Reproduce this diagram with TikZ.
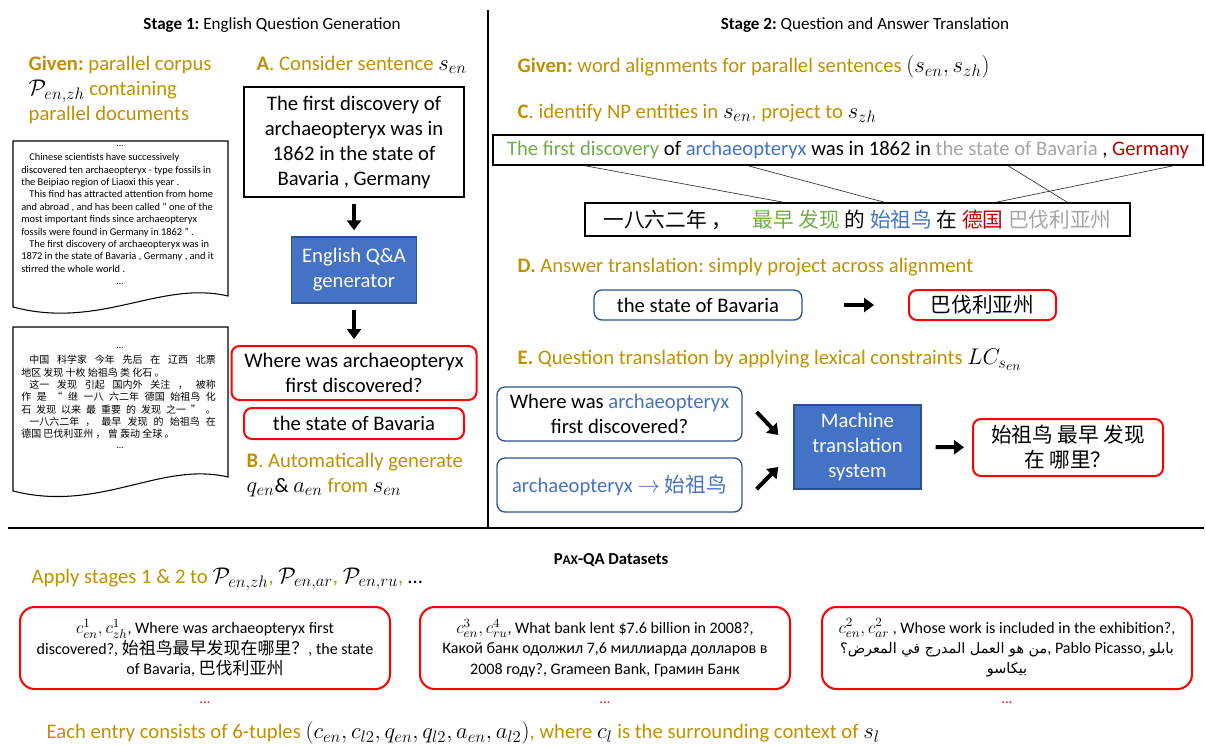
\RequirePackage{fix-cm}
\documentclass[tikz,border=0pt]{standalone}
\usepackage{fontspec}
\setmainfont{Carlito}
\newfontfamily\cjk{Noto Sans CJK SC}
\newfontfamily\cjkl[Scale=1.06]{Noto Sans CJK SC}
\newfontfamily\arabicfont[Script=Arabic,Scale=0.9]{DejaVu Sans}
\TeXXeTstate=1
\frenchspacing
\DeclareMathSizes{15.5}{17}{12.5}{10}
\DeclareMathSizes{12}{13}{9.5}{8}
\usetikzlibrary{arrows.meta,positioning,calc}

\definecolor{ochre}{HTML}{BF9000}
\definecolor{qgreen}{HTML}{70AD47}
\definecolor{qblue}{HTML}{4472C4}
\definecolor{qgray}{HTML}{A5A5A5}
\definecolor{qred}{HTML}{C00000}
\definecolor{boxred}{HTML}{FF0000}
\definecolor{boxblue}{HTML}{2F528F}

\newcommand\mainsz{\fontsize{15.5}{18.75}\selectfont}
\newcommand\blk[1]{\textcolor{black}{#1}}

\begin{document}
\begin{tikzpicture}[x=0.75pt,y=-0.75pt,font=\mainsz,
  heading/.style={font=\fontsize{12.8}{15}\selectfont},
  plainbox/.style={draw,line width=1.2pt,align=center,inner sep=2pt},
  redbox/.style={draw=boxred,line width=1.5pt,rounded corners=6pt,align=center},
  bluebox/.style={draw=boxblue,line width=1pt,rounded corners=6pt,align=center},
  engine/.style={draw=boxblue,fill=qblue,text=white,line width=1pt,align=center},
  entry/.style={redbox,rounded corners=11pt,minimum width=277.5pt,minimum height=61.5pt,font=\fontsize{12}{15.2}\selectfont},
  note/.style={text=ochre,anchor=west,align=left},
  doctext/.style={anchor=west,align=left,inner sep=0pt},
  fatarrow/.style={-{Triangle[length=7.5pt,width=10.5pt]},line width=3pt},
  reddots/.style={text=boxred,font=\fontsize{11}{11}\selectfont}]

\useasboundingbox (0,0) rectangle (1206,744);

% frame lines
\draw[line width=1.5pt] (488,10) -- (488,528);
\draw[line width=1.5pt] (8,528) -- (1204,528);

% ---- stage 1
\node[heading] (title1) at (272,25) {\textbf{Stage 1:} English Question Generation};
\node[note] (given1) at (24,90) {\textbf{Given:} parallel corpus\\ \blk{$\mathcal{P}_{en,zh}$} containing\\ parallel documents};

% parallel documents
\draw[line width=0.8pt] (13,141) -- (228,141) -- (228,296) .. controls (160,280) and (100,330) .. (13,307) -- cycle;
\draw[line width=0.8pt] (13,327) -- (228,327) -- (228,477) .. controls (160,461) and (100,513) .. (13,491) -- cycle;
\node[font=\fontsize{7}{8}\selectfont] (dotsA) at (120,146) {\dots};
\node[font=\fontsize{7}{8}\selectfont] (dotsB) at (120,284) {\dots};
\node[font=\fontsize{7}{8}\selectfont] (dotsC) at (120,348) {\dots};
\node[font=\fontsize{7}{8}\selectfont] (dotsD) at (120,448) {\dots};
\node[doctext,font=\fontsize{7.8}{9.3}\selectfont] (docen) at (21,213) {%
\hspace*{6pt}Chinese scientists have successively\\
discovered ten archaeopteryx - type fossils in\\
the Beipiao region of Liaoxi this year .\\
\hspace*{6pt}This find has attracted attention from home\\
and abroad , and has been called " one of the\\
most important finds since archaeopteryx\\
fossils were found in Germany in 1862 " .\\
\hspace*{6pt}The first discovery of archaeopteryx was in\\
1872 in the state of Bavaria , Germany , and it\\
stirred the whole world .};
\node[doctext,font=\fontsize{7.5}{9.25}\selectfont\cjk] (doczh) at (21,397) {%
\makebox[146pt][s]{\hspace*{6pt}中国 科学家 今年 先后 在 辽西 北票}\\
地区 发现 十枚 始祖鸟 类 化石 。\\
\makebox[146pt][s]{\hspace*{6pt}这一 发现 引起 国内外 关注 ， 被称}\\
\makebox[146pt][s]{作 是 “ 继 一八 六二年 德国 始祖鸟 化}\\
\makebox[146pt][s]{石 发现 以来 最 重要 的 发现 之一 ” 。}\\
\makebox[146pt][s]{\hspace*{6pt}一八六二年 ， 最早 发现 的 始祖鸟 在}\\
德国 巴伐利亚州 ， 曾 轰动 全球 。};

\node[note] (stepA) at (252,65) {\textbf{A}. Consider sentence \blk{$s_{en}$}};
\node[plainbox,minimum width=165pt,minimum height=82.5pt] (sent) at (354,142) {The first discovery of\\archaeopteryx was in\\1862 in the state of\\Bavaria , Germany};
\node[engine,minimum width=93.75pt,minimum height=49.5pt] (qagen) at (354,270) {English Q\&A\\generator};
\node[redbox,minimum width=183.75pt,minimum height=40.5pt] (qen) at (354,373) {Where was archaeopteryx\\first discovered?};
\node[redbox,minimum width=165pt,minimum height=23.25pt,below=4.5pt of qen] (aen) {the state of Bavaria};
\node[note] (stepB) at (242,475) {\textbf{B}. Automatically generate\\\blk{$q_{en}$\&} \blk{$a_{en}$} from \blk{$s_{en}$}};

\draw[fatarrow,shorten <=4.5pt,shorten >=4.5pt] (sent) -- (qagen);
\draw[fatarrow,shorten <=4.5pt,shorten >=4.5pt] (qagen) -- (qen);

% ---- stage 2
\node[heading] (title2) at (865,25) {\textbf{Stage 2:} Question and Answer Translation};
\node[note] (given2) at (513,67) {\textbf{Given:} word alignments for parallel sentences \blk{$(s_{en}, s_{zh})$}};
\node[note] (stepC) at (513,113) {\textbf{C}. identify NP entities in \blk{$s_{en}$}, project to \blk{$s_{zh}$}};

\node[plainbox,minimum width=532.5pt,minimum height=22.5pt] (ensent) at (848,150)
  {\textcolor{qgreen}{The first discovery} of \textcolor{qblue}{archaeopteryx} was in 1862 in \textcolor{qgray}{the state of Bavaria} , \textcolor{qred}{Germany}};
\node[plainbox,minimum width=408.75pt,minimum height=24.75pt] (zhsent) at (857.5,219.5)
  {\cjk 一八六二年 ，\quad \textcolor{qgreen}{最早 发现} 的 \textcolor{qblue}{始祖鸟} 在 \textcolor{qred}{德国} \textcolor{qgray}{巴伐利亚州}};

% alignment links
\foreach \a/\b in {93/199,256/300,516/483,681/412}
  \draw[line width=0.5pt,black!80] ($(ensent.south west)+(\a,0)$) -- ($(zhsent.north west)+(\b,0)$);

\node[note] (stepD) at (513,267) {\textbf{D.} Answer translation: simply project across alignment};
\node[bluebox,minimum width=156pt,minimum height=22.5pt] (ansen) at (698,305) {the state of Bavaria};
\node[redbox,minimum width=110.25pt,minimum height=22.5pt] (anszh) at (982.5,305) {{\cjk 巴伐利亚州}};
\draw[fatarrow,shorten <=30.75pt,shorten >=25.5pt] (ansen) -- (anszh);

\node[note] (stepE) at (513,360) {\textbf{E.} Question translation by applying lexical constraints \blk{$LC_{s_{en}}$}};
\node[bluebox,minimum width=183.75pt,minimum height=40.5pt] (qsrc) at (619.5,414) {Where was \textcolor{qblue}{archaeopteryx}\\first discovered?};
\node[bluebox,minimum width=183.75pt,minimum height=40.5pt] (lexc) at (619.5,485) {\textcolor{qblue}{archaeopteryx $\rightarrow$ {\cjk 始祖鸟}}};
\node[engine,minimum width=95.25pt,minimum height=63pt] (mt) at (857.5,447) {Machine\\translation\\system};
\node[redbox,minimum width=142.5pt,minimum height=42.75pt] (qzh) at (1068,447.5) {{\cjk 始祖鸟 最早 发现}\\{\cjk 在 哪里？}};

\draw[fatarrow] ($(qsrc.east)+(14,-2)$) -- ($(mt.west)+(-15,-12)$);
\draw[fatarrow] ($(lexc.east)+(14,4)$) -- ($(mt.west)+(-15,20)$);
\draw[fatarrow,shorten <=10.5pt,shorten >=6pt] (mt) -- (qzh);

% ---- datasets
\node[font=\fontsize{12.5}{14}\selectfont\bfseries] (paxqa) at (611,560) {P{\fontsize{10}{10}\selectfont AX}-QA Datasets};
\node[note] (apply) at (27,579) {Apply stages 1 \& 2 to \blk{$\mathcal{P}_{en,zh}$}, \blk{$\mathcal{P}_{en,ar}$}, \blk{$\mathcal{P}_{en,ru}$}, \blk{\dots}};

\node[entry] (e1) at (205,648) {$c^1_{en}, c^1_{zh}$, Where was archaeopteryx first\\discovered?, {\cjkl 始祖鸟最早发现在哪里？}, the state\\of Bavaria, {\cjkl 巴伐利亚州}};
\node[entry] (e2) at (605,648) {$c^3_{en}, c^4_{ru}$, What bank lent \$7.6 billion in 2008?,\\Какой банк одолжил 7,6 миллиарда долларов в\\2008 году?, Grameen Bank, Грамин Банк};
\node[entry] (e3) at (1007,648) {$c^2_{en}, c^2_{ar}$ , Whose work is included in the exhibition?,\\{\arabicfont\beginR من هو العمل المدرج في المعرض؟\endR}, Pablo Picasso, {\arabicfont\beginR بابلو\endR}\\{\arabicfont\beginR بيكاسو\endR}};

\node[reddots] (d1) at (205,703) {\dots};
\node[reddots] (d2) at (605,703) {\dots};
\node[reddots] (d3) at (1007,703) {\dots};

\node[note] (tuple) at (42,733) {Each entry consists of 6-tuples \blk{$(c_{en}, c_{l2}, q_{en}, q_{l2}, a_{en}, a_{l2})$}, where \blk{$c_l$} is the surrounding context of \blk{$s_l$}};

\end{tikzpicture}
\end{document}
